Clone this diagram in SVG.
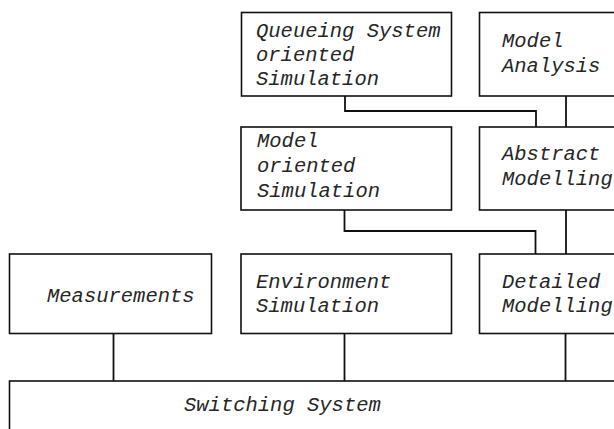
<svg xmlns="http://www.w3.org/2000/svg" width="614" height="429" viewBox="0 0 614 429">
  <style>
    .box { fill: #ffffff; stroke: #111111; stroke-width: 1.6; }
    .wire { fill: none; stroke: #111111; stroke-width: 1.8; }
    .lbl { font-family: "Liberation Mono", "Courier New", monospace; font-style: italic; font-size: 20.5px; fill: #262626; }
  </style>
  <rect width="614" height="429" fill="#ffffff"/>

  <!-- connectors -->
  <g id="connectors">
    <polyline class="wire" points="345,96 345,111 536,111 536,127"/>
    <line class="wire" x1="566" y1="96" x2="566" y2="127"/>
    <polyline class="wire" points="344.5,210 344.5,231 535.5,231 535.5,254"/>
    <line class="wire" x1="566" y1="210" x2="566" y2="254"/>
    <line class="wire" x1="113.5" y1="333.5" x2="113.5" y2="381"/>
    <line class="wire" x1="344.5" y1="333.5" x2="344.5" y2="381"/>
    <line class="wire" x1="565.5" y1="333.5" x2="565.5" y2="381"/>
  </g>

  <g id="queueing-sim">
    <rect class="box" x="241.5" y="12.5" width="210" height="83.5"/>
    <text class="lbl" x="256" y="37">Queueing System</text>
    <text class="lbl" x="256" y="61">oriented</text>
    <text class="lbl" x="256" y="85">Simulation</text>
  </g>

  <g id="model-analysis">
    <rect class="box" x="479.5" y="12.5" width="150" height="83.5"/>
    <text class="lbl" x="502" y="47">Model</text>
    <text class="lbl" x="502" y="72">Analysis</text>
  </g>

  <g id="model-sim">
    <rect class="box" x="241" y="127" width="210.5" height="83"/>
    <text class="lbl" x="257" y="147">Model</text>
    <text class="lbl" x="257" y="172">oriented</text>
    <text class="lbl" x="257" y="197">Simulation</text>
  </g>

  <g id="abstract-modelling">
    <rect class="box" x="479.5" y="127" width="150" height="83"/>
    <text class="lbl" x="502" y="160">Abstract</text>
    <text class="lbl" x="502" y="185">Modelling</text>
  </g>

  <g id="measurements">
    <rect class="box" x="9.5" y="254" width="202" height="79.5"/>
    <text class="lbl" x="47" y="302">Measurements</text>
  </g>

  <g id="environment-sim">
    <rect class="box" x="241" y="254" width="210.5" height="79.5"/>
    <text class="lbl" x="256" y="288">Environment</text>
    <text class="lbl" x="256" y="312">Simulation</text>
  </g>

  <g id="detailed-modelling">
    <rect class="box" x="479.5" y="254" width="150" height="79.5"/>
    <text class="lbl" x="502" y="288">Detailed</text>
    <text class="lbl" x="502" y="312">Modelling</text>
  </g>

  <g id="switching-system">
    <rect class="box" x="9.5" y="381" width="620" height="60"/>
    <text class="lbl" x="184" y="411">Switching System</text>
  </g>
</svg>
